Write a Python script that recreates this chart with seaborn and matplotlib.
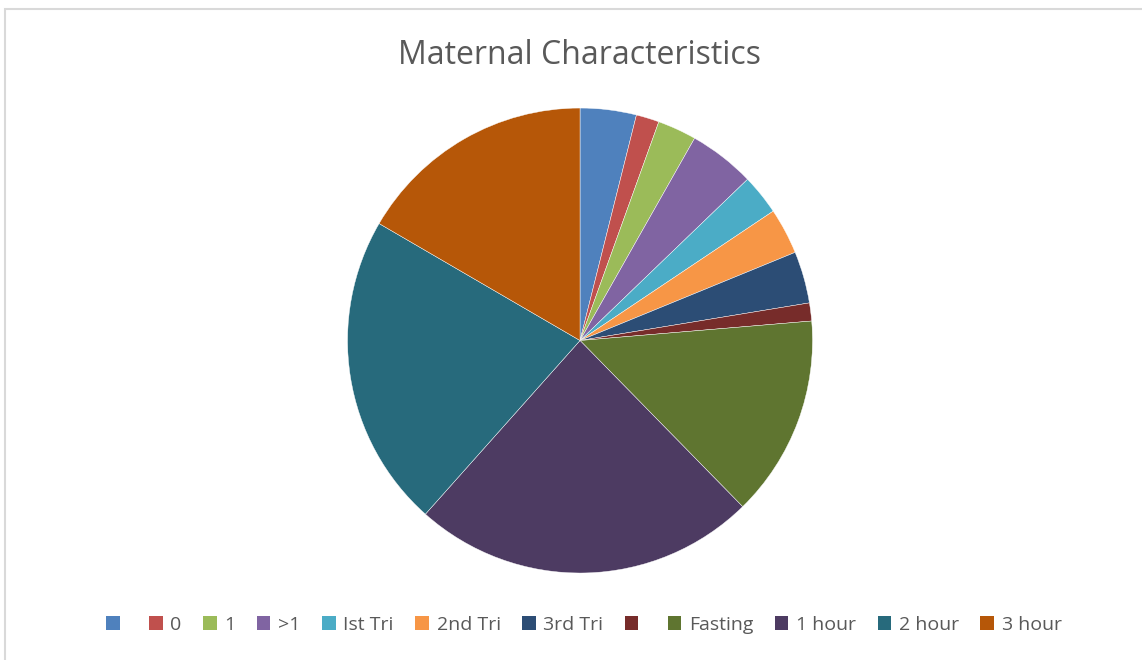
import matplotlib
matplotlib.use("Agg")
import matplotlib.pyplot as plt
import matplotlib.patches as mpatches
import seaborn as sns

# categories shown in the legend (two have no label)
labels = ["", "0", "1", ">1", "Ist Tri", "2nd Tri", "3rd Tri", "",
          "Fasting", "1 hour", "2 hour", "3 hour"]
# share of each slice (percent)
values = [3.9, 1.6, 2.7, 4.6, 2.8, 3.2, 3.6, 1.25, 14.0, 23.9, 21.8, 16.6]
colors = ["#4F81BD", "#C0504D", "#9BBB59", "#8064A2", "#4BACC6", "#F79646",
          "#2C4D75", "#772C2A", "#5F7530", "#4D3B62", "#276A7C", "#B65708"]

sns.set_theme(style="white")
plt.rcParams["font.family"] = ["Open Sans", "DejaVu Sans"]

fig = plt.figure(figsize=(11.42, 6.6), dpi=100)
fig.patch.set_facecolor("white")

# light chart frame like the spreadsheet chart area
frame = mpatches.Rectangle((5 / 1142, -0.01), 1.1, (660 - 9) / 660 + 0.01,
                           transform=fig.transFigure, fill=False,
                           edgecolor="#D9D9D9", linewidth=1.5)
fig.patches.append(frame)

ax = fig.add_axes([0.3043, 0.1318, 0.4072, 0.7045])
ax.pie(values, colors=colors, startangle=90, counterclock=False,
       wedgeprops=dict(edgecolor="white", linewidth=0.3))
ax.set_xlim(-1, 1)
ax.set_ylim(-1, 1)
ax.set_aspect("equal")
ax.axis("off")

fig.text(580 / 1142, 1 - 55 / 660, "Maternal Characteristics",
         ha="center", va="center", fontsize=23, color="#595959")

handles = [mpatches.Patch(facecolor=c, edgecolor="none") for c in colors]
fig.legend(handles, labels, loc="center", bbox_to_anchor=(584 / 1142, 1 - 625 / 660),
           ncol=12, frameon=False, fontsize=14, labelcolor="#595959",
           handlelength=0.7, handleheight=0.7, handletextpad=0.4,
           columnspacing=1.1)

fig.savefig("out.png", dpi=100)
